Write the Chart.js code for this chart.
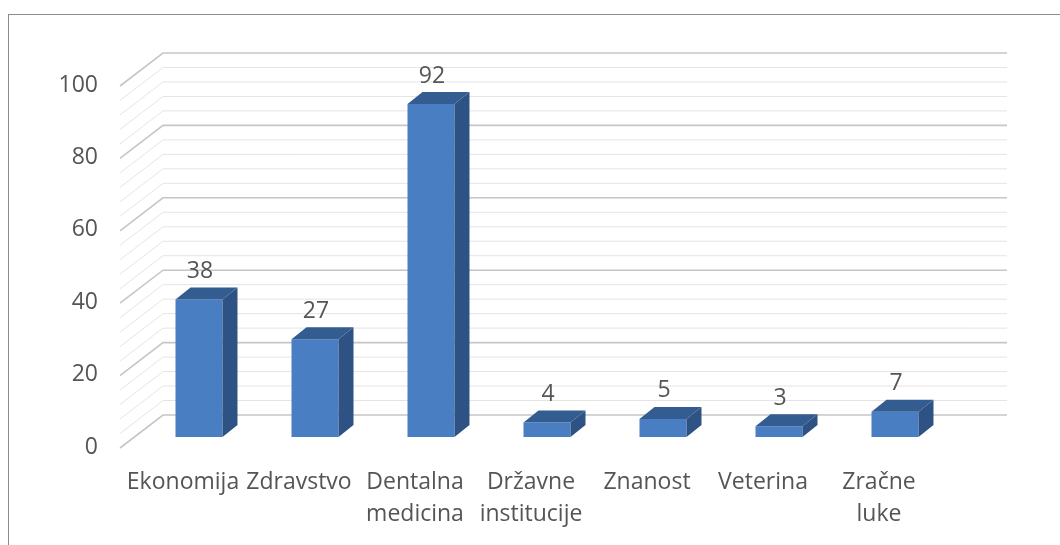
<!DOCTYPE html>
<html>
<head>
<meta charset="utf-8">
<script src="https://cdn.jsdelivr.net/npm/chart.js@4.4.1/dist/chart.umd.min.js"></script>
<style>
    html, body { margin: 0; padding: 0; background: #fff; overflow: hidden; }
    #frame { position: absolute; left: 8px; top: 14px; width: 1100px; height: 600px; border: 1.5px solid #8c8c8c; }
    #chart { position: absolute; left: 0; top: 0; }
</style>
</head>
<body>
<div id="frame"></div>
<canvas id="chart" width="1060" height="545"></canvas>
<script>
const categories = ['Ekonomija', 'Zdravstvo', ['Dentalna', 'medicina'], ['Državne', 'institucije'], 'Znanost', 'Veterina', ['Zračne', 'luke']];
const values = [38, 27, 92, 4, 5, 3, 7];
const yMin = 0;
const yMax = 100;
const yStep = 20;
const minorStep = 4;

const textColor = '#555555';
const fontFamily = '"Open Sans", sans-serif';

// fake 3d: depth of the bars and of the back wall
const depth = { dx: 15, dy: -12 };

const bar3d = {
    id: 'bar3d',
    beforeDatasetsDraw(chart) {
        const ctx = chart.ctx;
        const y = chart.scales.y;
        const a = chart.chartArea;
        const backL = a.left + 22, backR = a.right + 54, frontL = a.left - 21;
        ctx.save();
        for (let v = yMin; v <= yMax; v += minorStep) {
            const py = y.getPixelForValue(v);
            const major = v % yStep === 0;
            ctx.strokeStyle = major ? '#c6c6c6' : '#e4e4e4';
            ctx.lineWidth = major ? 1.6 : 1;
            ctx.beginPath();
            ctx.moveTo(frontL, py + 11);
            ctx.lineTo(backL, py - 22);
            ctx.lineTo(backR, py - 22);
            ctx.stroke();
        }
        ctx.restore();
    },
    afterDatasetsDraw(chart) {
        const ctx = chart.ctx;
        const meta = chart.getDatasetMeta(0);
        ctx.save();
        meta.data.forEach((bar, i) => {
            const { x, y, base, width } = bar.getProps(['x', 'y', 'base', 'width'], true);
            const l = x - width / 2, r = x + width / 2;
            // side
            ctx.fillStyle = '#2d5283';
            ctx.beginPath();
            ctx.moveTo(r, y);
            ctx.lineTo(r + depth.dx, y + depth.dy);
            ctx.lineTo(r + depth.dx, base + depth.dy);
            ctx.lineTo(r, base);
            ctx.closePath();
            ctx.fill();
            // top
            ctx.fillStyle = '#335d91';
            ctx.beginPath();
            ctx.moveTo(l, y);
            ctx.lineTo(l + depth.dx, y + depth.dy);
            ctx.lineTo(r + depth.dx, y + depth.dy);
            ctx.lineTo(r, y);
            ctx.closePath();
            ctx.fill();
            // value label
            ctx.fillStyle = textColor;
            ctx.font = '23px ' + fontFamily;
            ctx.textAlign = 'center';
            ctx.textBaseline = 'middle';
            ctx.fillText(String(values[i]), x + 1, y - 28);
        });
        ctx.restore();
    }
};

new Chart(document.getElementById('chart'), {
    type: 'bar',
    data: {
        labels: categories,
        datasets: [{
            data: values,
            backgroundColor: '#4a7ec3',
            borderWidth: 0,
            barPercentage: 0.405,
            categoryPercentage: 1.0
        }]
    },
    options: {
        responsive: false,
        animation: false,
        layout: { padding: { left: 0, right: 107, top: 75, bottom: 0 } },
        plugins: {
            legend: { display: false },
            tooltip: { enabled: false }
        },
        scales: {
            x: {
                grid: { display: false, drawTicks: false },
                border: { display: false },
                ticks: {
                    color: textColor,
                    font: { family: fontFamily, size: 23, lineHeight: 1.39 },
                    padding: 29,
                    labelOffset: -16,
                    maxRotation: 0,
                    autoSkip: false
                },
                afterFit: s => { s.height = 108; }
            },
            y: {
                min: yMin,
                max: yMax,
                grid: { display: false, drawTicks: false },
                border: { display: false },
                ticks: {
                    stepSize: yStep,
                    color: textColor,
                    font: { family: fontFamily, size: 23 },
                    padding: 43,
                    labelOffset: 10
                },
                afterFit: s => { s.width = 141; }
            }
        }
    },
    plugins: [bar3d]
});
</script>
</body>
</html>
